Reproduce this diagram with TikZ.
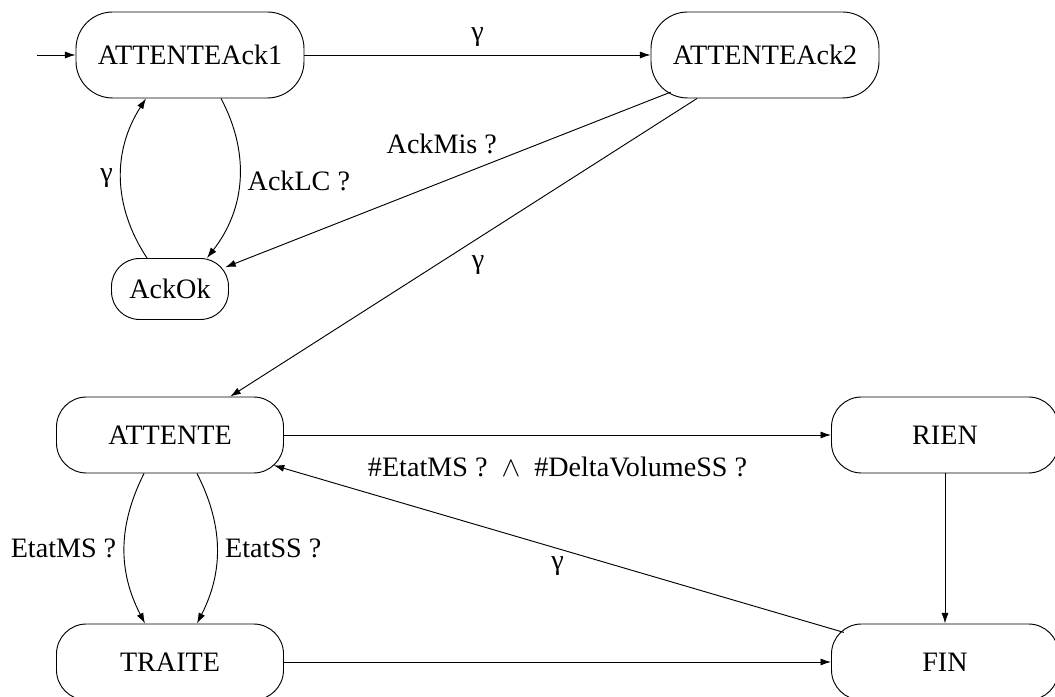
\documentclass[tikz,border=0pt]{standalone}
\usepackage{fontspec}
\setmainfont{Liberation Serif}
\usetikzlibrary{arrows.meta}
\begin{document}
\begin{tikzpicture}[font=\fontsize{12}{14}\selectfont,
    >={Latex[length=4.5pt,width=3pt]},
    stato/.style={draw, rounded corners=0.45cm, minimum width=3.405cm, minimum height=1.14cm, inner sep=0pt}]
    \useasboundingbox (0,0) rectangle (15.825,10.455);
    %disegno stati
    \node[stato, rounded corners=0.55cm, minimum width=3.42cm, minimum height=1.29cm] (ack1) at (2.85,9.63) {ATTENTEAck1};
    \node[stato, rounded corners=0.55cm, minimum width=3.42cm, minimum height=1.29cm] (ack2) at (11.475,9.63) {ATTENTEAck2};
    \node[stato, rounded corners=0.42cm, minimum width=1.755cm, minimum height=0.915cm] (ackok) at (2.55,6.12) {AckOk};
    \node[stato] (attente) at (2.55,3.93) {ATTENTE};
    \node[stato] (traite) at (2.55,0.525) {TRAITE};
    \node[stato] (rien) at (14.175,3.93) {RIEN};
    \node[stato] (fin) at (14.175,0.525) {FIN};
    \coordinate (init) at (0.555,9.63);
    %transizioni in alto
    \draw[->] (init) -- (ack1);
    \draw[->] (ack1) -- node[above]{γ} (ack2);
    \draw[->] ([xshift=0.465cm]ack1.south) to[bend left=33] node[right]{AckLC ?} ([xshift=0.555cm]ackok.north);
    \draw[->] ([xshift=-0.345cm]ackok.north) to[bend left=33] node[left]{γ} ([xshift=-0.66cm]ack1.south);
    \draw[->, shorten <=-0.26cm, shorten >=-0.06cm] (ack2) -- node[above=0.3cm]{AckMis ?} (ackok);
    \draw[->] (ack2) -- node[below right]{γ} (attente);
    %transizioni in basso
    \draw[->] (attente) -- node[below=0.2cm]{\#EtatMS ?~~$\wedge$~~\#DeltaVolumeSS ?} (rien);
    \draw[->] ([xshift=-0.39cm]attente.south) to[bend right=27] node[left]{EtatMS ?} ([xshift=-0.375cm]traite.north);
    \draw[->] ([xshift=0.405cm]attente.south) to[bend left=27] node[right]{EtatSS ?} ([xshift=0.405cm]traite.north);
    \draw[->] (rien) -- (fin);
    \draw[->] (traite) -- (fin);
    \draw[->, shorten <=-0.2cm, shorten >=-0.16cm] (fin) -- node[below]{γ} (attente);
\end{tikzpicture}
\end{document}
